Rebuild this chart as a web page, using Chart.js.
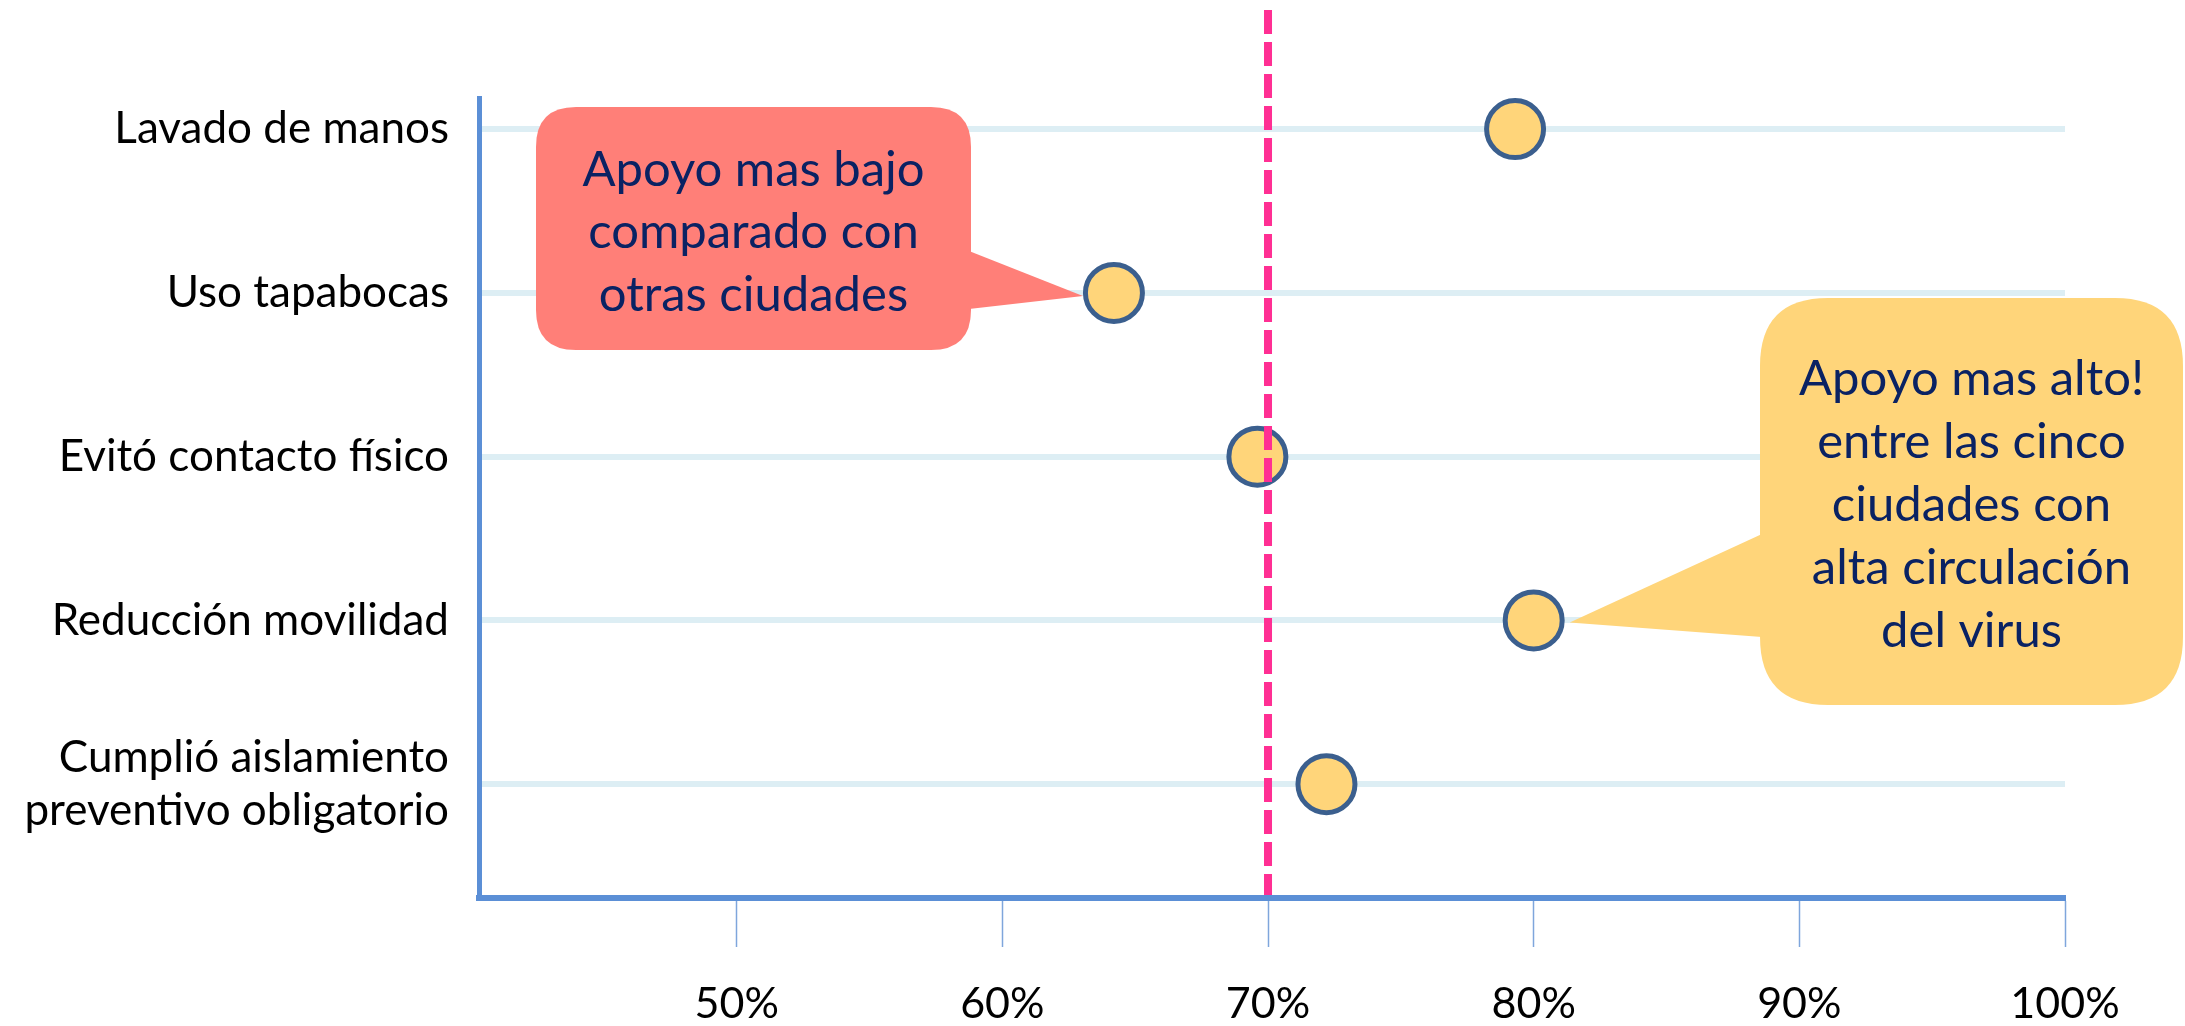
<!DOCTYPE html>
<html>
<head>
<meta charset="utf-8">
<script src="https://cdn.jsdelivr.net/npm/chart.js@4/dist/chart.umd.min.js"></script>
<style>
  html, body { margin: 0; padding: 0; background: #ffffff; }
  #wrap { width: 2185px; height: 1026px; position: relative; }
  canvas { display: block; }
</style>
</head>
<body>
<div id="wrap"><canvas id="c" width="2185" height="1026"></canvas></div>
<script>
// ---- data ----
const categories = [
  'Lavado de manos',
  'Uso tapabocas',
  'Evitó contacto físico',
  'Reducción movilidad',
  ['Cumplió aislamiento', 'preventivo obligatorio']
];
const values = [79.3, 64.2, 69.6, 80.0, 72.2];
const xTickValues = [50, 60, 70, 80, 90, 100];
const referenceValue = 70;
const lowNote = ['Apoyo mas bajo', 'comparado con', 'otras ciudades'];
const lowNoteIndex = 1;
const highNote = ['Apoyo mas alto!', 'entre las cinco', 'ciudades con', 'alta circulación', 'del virus'];
const highNoteIndex = 3;

// ---- styles ----
const AXIS_BLUE = '#5B8FD6';
const GRID_BLUE = '#DDEEF4';
const DOT_FILL = '#FFD57A';
const DOT_EDGE = '#3B5F8E';
const PINK = '#FF2F93';
const NAVY = '#0A2263';
const SALMON = '#FF7F78';
const YELLOW = '#FFD57A';
const FONT = 'Lato, "Open Sans", sans-serif';

function roundRect(ctx, x, y, w, h, r) {
  ctx.beginPath();
  ctx.moveTo(x + r, y);
  ctx.lineTo(x + w - r, y);
  ctx.quadraticCurveTo(x + w, y, x + w, y + r);
  ctx.lineTo(x + w, y + h - r);
  ctx.quadraticCurveTo(x + w, y + h, x + w - r, y + h);
  ctx.lineTo(x + r, y + h);
  ctx.quadraticCurveTo(x, y + h, x, y + h - r);
  ctx.lineTo(x, y + r);
  ctx.quadraticCurveTo(x, y, x + r, y);
  ctx.closePath();
}

function drawCallout(ctx, box, base1, base2, tip, color, lines) {
  ctx.save();
  ctx.fillStyle = color;
  roundRect(ctx, box.x, box.y, box.w, box.h, box.r);
  ctx.fill();
  ctx.beginPath();
  ctx.moveTo(base1.x, base1.y);
  ctx.lineTo(tip.x, tip.y);
  ctx.lineTo(base2.x, base2.y);
  ctx.closePath();
  ctx.fill();
  ctx.fillStyle = NAVY;
  ctx.font = '49px ' + FONT;
  ctx.textAlign = 'center';
  ctx.textBaseline = 'middle';
  const cx = box.x + box.w / 2;
  const cy = box.y + box.h / 2 + 4;
  const lh = box.lh;
  lines.forEach((t, i) => {
    ctx.fillText(t, cx, cy + (i - (lines.length - 1) / 2) * lh);
  });
  ctx.restore();
}

const calloutPlugin = {
  id: 'callouts',
  beforeDatasetsDraw(chart) {
    const ctx = chart.ctx;
    const pts = chart.getDatasetMeta(0).data;
    const pLow = pts[lowNoteIndex];
    const pHigh = pts[highNoteIndex];
    // low support callout (left, salmon)
    const b1 = { x: 536, y: 107, w: 435, h: 243, r: 40, lh: 62.5 };
    drawCallout(ctx, b1,
      { x: b1.x + b1.w - 2, y: 251 }, { x: b1.x + b1.w - 2, y: 309 },
      { x: pLow.x - 31, y: pLow.y + 3 }, SALMON, lowNote);
    // high support callout (right, yellow)
    const b2 = { x: 1760, y: 298, w: 423, h: 407, r: 68, lh: 63 };
    drawCallout(ctx, b2,
      { x: b2.x + 2, y: 534 }, { x: b2.x + 2, y: 637 },
      { x: pHigh.x + 36, y: pHigh.y + 2 }, YELLOW, highNote);
  },
  afterDatasetsDraw(chart) {
    const ctx = chart.ctx;
    const x = chart.scales.x.getPixelForValue(referenceValue);
    ctx.save();
    ctx.strokeStyle = PINK;
    ctx.lineWidth = 8;
    ctx.setLineDash([24, 8]);
    ctx.beginPath();
    ctx.moveTo(x, 10);
    ctx.lineTo(x, chart.chartArea.bottom - 3);
    ctx.stroke();
    ctx.restore();
  }
};

Chart.defaults.font.family = FONT;
Chart.defaults.color = '#000000';

new Chart(document.getElementById('c'), {
  type: 'scatter',
  data: {
    datasets: [{
      data: values.map((v, i) => ({ x: v, y: i })),
      pointRadius: 28.5,
      pointHoverRadius: 28.5,
      pointBorderWidth: 5,
      pointBackgroundColor: DOT_FILL,
      pointBorderColor: DOT_EDGE,
      showLine: false
    }]
  },
  options: {
    responsive: false,
    animation: false,
    events: [],
    layout: { padding: { top: 98, right: 120, left: 0, bottom: 0 } },
    plugins: {
      legend: { display: false },
      tooltip: { enabled: false },
      title: { display: false }
    },
    scales: {
      x: {
        type: 'linear',
        min: 40.3,
        max: 100,
        afterFit(scale) { scale.height = 128; },
        afterBuildTicks(scale) { scale.ticks = xTickValues.map(v => ({ value: v })); },
        ticks: {
          callback: v => v + '%',
          font: { size: 43 },
          color: '#000000',
          padding: 31,
          maxRotation: 0,
          autoSkip: false
        },
        grid: {
          display: true,
          drawOnChartArea: false,
          drawTicks: true,
          tickLength: 49,
          tickColor: '#7FA6DC',
          tickWidth: 1.5
        },
        border: { display: true, color: AXIS_BLUE, width: 6 }
      },
      y: {
        type: 'linear',
        reverse: true,
        min: -0.19,
        max: 4.695,
        afterFit(scale) { scale.width = 479; },
        afterBuildTicks(scale) { scale.ticks = categories.map((c, i) => ({ value: i })); },
        ticks: {
          callback: (v) => categories[v],
          font: { size: 44 },
          color: '#000000',
          padding: 30,
          autoSkip: false
        },
        grid: {
          display: true,
          drawOnChartArea: true,
          drawTicks: false,
          color: GRID_BLUE,
          lineWidth: 6
        },
        border: { display: true, color: AXIS_BLUE, width: 5 }
      }
    }
  },
  plugins: [calloutPlugin]
});
</script>
</body>
</html>
